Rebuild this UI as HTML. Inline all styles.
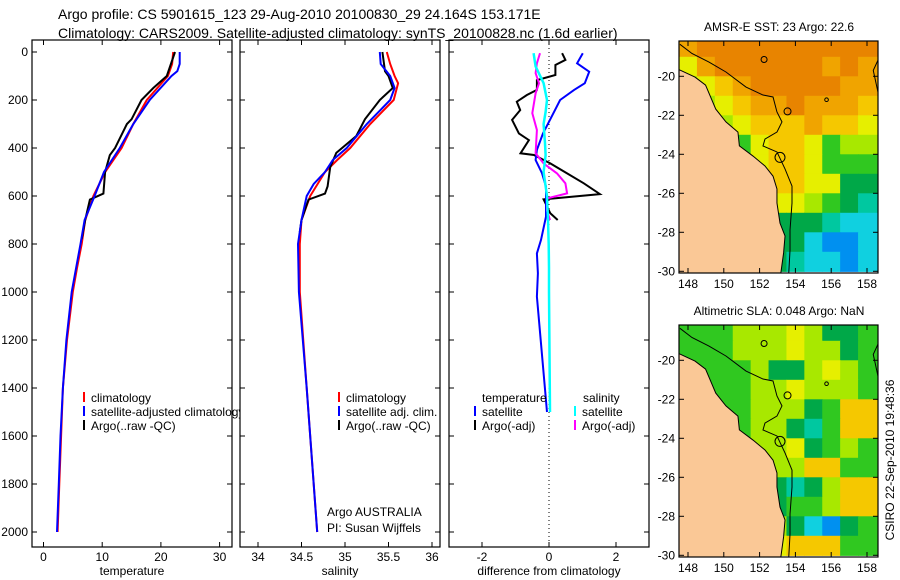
<!DOCTYPE html>
<html><head><meta charset="utf-8">
<style>
body{margin:0;background:#fff;}
svg{display:block;font-family:"Liberation Sans",sans-serif;}
</style></head>
<body>
<svg id="fig" width="900" height="580" viewBox="0 0 900 580">
<text x="58" y="19" font-size="14">Argo profile: CS 5901615_123 29-Aug-2010 20100830_29 24.164S 153.171E</text>
<text x="58" y="38" font-size="14">Climatology: CARS2009. Satellite-adjusted climatology: synTS_20100828.nc (1.6d earlier)</text>
<defs><clipPath id="p1clip"><rect x="32" y="40" width="208" height="507"/></clipPath></defs>
<g id="g"></g>
</svg>
<script>
// ---- depth profile data ----
const tDepthClim=[0,50,100,200,300,400,500,600,700,800,900,1000,1200,1400,1600,1800,2000];
const tempClim=[22.1,21.9,21.2,17.6,15.3,13.3,10.5,8.5,7.1,6.5,5.7,5.0,4.0,3.3,3.0,2.7,2.4];
const tDepthSat=[0,50,80,100,200,300,400,500,600,700,800,1000,1200,1400,1600,1800,2000];
const tempSat=[23.2,23.2,22.8,21.8,18.1,15.3,13.0,10.3,8.7,7.0,6.3,4.8,3.9,3.3,2.9,2.6,2.3];
const tDepthArgo=[0,100,150,200,280,300,400,430,500,590,615,700,780];
const tempArgo=[22.4,21.0,18.7,16.7,15.0,14.2,12.2,11.3,10.5,10.2,7.9,7.1,6.5];
const sDepthClim=[0,50,100,130,200,300,400,450,500,600,700,800,1000,1400,2000];
const salClim=[35.48,35.52,35.57,35.61,35.56,35.29,35.06,34.91,34.77,34.6,34.5,34.48,34.48,34.56,34.68];
const sDepthSat=[0,50,100,150,200,300,400,450,500,550,600,700,800,1000,1400,2000];
const salSat=[35.4,35.41,35.52,35.57,35.52,35.25,35.02,34.86,34.77,34.64,34.56,34.5,34.46,34.47,34.56,34.68];
const sDepthArgo=[0,80,100,150,200,280,350,420,480,560,590,615,700,750];
const salArgo=[35.43,35.46,35.5,35.55,35.4,35.23,35.13,34.9,34.83,34.8,34.77,34.58,34.5,34.48];
const dDepthTsat=[5,47,82,130,158,200,242,339,408,450,505,561,617,686,783,839,922,1019,1500];
const diffTsat=[1.01,0.84,1.2,1.07,0.75,0.33,0.18,-0.18,-0.36,-0.4,-0.21,-0.09,-0.09,-0.09,-0.24,-0.36,-0.33,-0.36,-0.06];
const dDepthTargo=[5,33,54,96,117,158,179,207,242,283,339,367,422,429,464,506,547,592,614,672,700];
const diffTargo=[0.39,0.49,0.19,0.19,-0.36,-0.36,-0.66,-0.96,-0.86,-1.1,-0.9,-0.6,-0.85,-0.45,0.04,0.54,1.04,1.52,-0.16,0.04,0.26];
const dDepthSsat=[5,60,130,200,250,300,380,430,500,600,700,800,900,1000,1500];
const diffSsat=[-0.46,-0.4,-0.16,-0.06,-0.1,-0.16,-0.12,-0.1,-0.16,-0.06,-0.03,-0.01,0.0,0.0,0.03];
const dDepthSargo=[5,47,88,130,172,255,325,422,464,506,547,589,610,661,700];
const diffSargo=[-0.27,-0.36,-0.4,-0.3,-0.4,-0.5,-0.36,-0.4,-0.16,0.24,0.49,0.54,-0.06,-0.06,0.03];
const depthTicks=[0,200,400,600,800,1000,1200,1400,1600,1800,2000];
const tempTicks=[0,10,20,30];
const salTicks=[34,34.5,35,35.5,36];
const diffTicks=[-2,0,2];
// ---- map data (1 deg cells, rows lat 18..30, cols lon 147.5..158.5) ----
const sstRows=["oOOOOOOOOOO","yoOOOOOOoOo","lyYoOOOOOoo","glyYooOoooY","gglyYYYoYYy","ggggyYYygll","tttcyYYyggg","tttbgYYyyGG","tttgGyylgGt","tttbgGGGtcc","tttcgGGcbbc","tttcgGtccbc"];
const slaRows=["ggglllylGGg","ggglllyllGg","gggglGGlylg","ggggllylllg","gggglllGgYY","ggggllGtgYY","ggggllyGglg","gggggllYYgg","ggggGGtGlYY","gggglGgglYY","ggggllGcbGg","gggglyYYYgg"];
const latTicks=[20,22,24,26,28,30];
const lonTicks=[148,150,152,154,156,158];
const coastLonLat=[[147.3,19.6],[147.55,19.68],[148.39,20.04],[148.98,20.45],[149.55,21.68],[150.12,22.34],[150.79,22.86],[150.87,23.57],[151.63,24.09],[152.3,24.6],[152.75,25.12],[152.97,25.78],[152.97,26.5],[153.14,27.53],[153.42,28.19],[153.34,29.06],[153.14,30.4],[147.3,30.4]];
const shelfLonLat=[[147.55,18.36],[148.22,18.83],[149.17,19.27],[150.12,19.78],[151.24,20.55],[152.19,20.96],[152.75,21.06],[152.97,21.83],[153.25,22.34],[152.97,22.86],[152.3,23.22],[152.19,23.57],[152.97,23.88],[153.42,24.75],[153.81,25.63],[153.81,26.5],[153.7,27.88],[153.7,28.91],[153.61,30.4]];

const NS="http://www.w3.org/2000/svg";
const G=document.getElementById('g');
function mk(tag,at,parent){const e=document.createElementNS(NS,tag);for(const k in at)e.setAttribute(k,at[k]);(parent||G).appendChild(e);return e;}
const Y0=52,PY=0.24;
const yD=d=>Y0+d*PY;
const xT=v=>43.5+v*5.87;
const xS=v=>258+(v-34)*87;
const xDf=v=>549+v*33.5;
const panels=[[32,'temperature-panel'],[240,'salinity-panel'],[449,'difference-panel']];
panels.forEach(([x0,nm],i)=>{
  const r=mk('rect',{x:x0,y:40,width:200,height:507,fill:'none',stroke:'#000','stroke-width':1.2});
  
  
  depthTicks.forEach(d=>{
    mk('line',{x1:x0,x2:x0+5,y1:yD(d),y2:yD(d),stroke:'#000'});
    mk('line',{x1:x0+195,x2:x0+200,y1:yD(d),y2:yD(d),stroke:'#000'});
    if(i===0){const t=mk('text',{x:x0-4,y:yD(d)+4,'font-size':12,'text-anchor':'end'});t.textContent=d;
      
      }
  });
});
function xticks(arr,fx){arr.forEach(v=>{const x=fx(v);
  mk('line',{x1:x,x2:x,y1:40,y2:45,stroke:'#000'});mk('line',{x1:x,x2:x,y1:542,y2:547,stroke:'#000'});
  const t=mk('text',{x:x,y:561,'font-size':12,'text-anchor':'middle'});t.textContent=v;
  
  });}
xticks(tempTicks,xT);xticks(salTicks,xS);xticks(diffTicks,xDf);
[['temperature',132,'x-axis-title-temperature'],['salinity',340,'x-axis-title-salinity'],['difference from climatology',549,'x-axis-title-difference']].forEach(([s,x,n])=>{
  const t=mk('text',{x:x,y:575,'font-size':12,'text-anchor':'middle'});t.textContent=s;
  
  });
const zl=mk('line',{x1:xDf(0),x2:xDf(0),y1:40,y2:547,stroke:'#000','stroke-dasharray':'1 3'});


function line(ds,vs,fx,col,name,w){
  const pts=ds.map((d,i)=>fx(vs[i]).toFixed(1)+','+yD(d).toFixed(1)).join(' ');
  const p=mk('polyline',{points:pts,fill:'none',stroke:col,'stroke-width':w||2});
  
  }
line(tDepthClim,tempClim,xT,'#f00','temp-climatology-line');
line(tDepthArgo,tempArgo,xT,'#000','temp-argo-line');
line(tDepthSat,tempSat,xT,'#00f','temp-satellite-line');
line(sDepthClim,salClim,xS,'#f00','sal-climatology-line');
line(sDepthArgo,salArgo,xS,'#000','sal-argo-line');
line(sDepthSat,salSat,xS,'#00f','sal-satellite-line');
line(dDepthTargo,diffTargo,xDf,'#000','diff-temp-argo-line');
line(dDepthTsat,diffTsat,xDf,'#00f','diff-temp-satellite-line');
line(dDepthSargo,diffSargo,xDf,'#f0f','diff-sal-argo-line');
line(dDepthSsat,diffSsat,xDf,'#0ff','diff-sal-satellite-line',2.5);
function leg(x,y,col,txt,name,clip){
  mk('line',{x1:x,x2:x,y1:y-10,y2:y,stroke:col,'stroke-width':2});
  const t=mk('text',{x:x+7,y:y,'font-size':12});t.textContent=txt;
  if(clip)t.setAttribute('clip-path','url(#p1clip)');
  
  }
leg(84,402,'#f00','climatology','legend-temp-climatology');
leg(84,416,'#00f','satellite-adjusted climatology','legend-temp-satellite',true);
leg(84,430,'#000','Argo(..raw -QC)','legend-temp-argo');
leg(339,402,'#f00','climatology','legend-sal-climatology');
leg(339,416,'#00f','satellite adj. clim.','legend-sal-satellite');
leg(339,430,'#000','Argo(..raw -QC)','legend-sal-argo');
[['temperature',482,402],['salinity',583,402]].forEach(([s,x,y])=>{const t=mk('text',{x:x,y:y,'font-size':12});t.textContent=s;
  
  });
leg(475,416,'#00f','satellite','legend-diff-temp-satellite');
leg(475,430,'#000','Argo(-adj)','legend-diff-temp-argo');
leg(575,416,'#0ff','satellite','legend-diff-sal-satellite');
leg(575,430,'#f0f','Argo(-adj)','legend-diff-sal-argo');
[['Argo AUSTRALIA',516],['PI: Susan Wijffels',532]].forEach(([s,y])=>{const t=mk('text',{x:327,y:y,'font-size':12});t.textContent=s;
  
  });
// ---- maps ----
const COL={O:'#e88400',o:'#f0a400',Y:'#f5c800',y:'#e6ef00',l:'#a8e800',g:'#30c820',G:'#00a848',t:'#00c8a0',c:'#10d0e0',b:'#0090f0'};
const LX=17.9, LY=19.5;
const lx=l=>688+(l-148)*LX;
function drawMap(top,rows,title,name){
  const ly=l=>top+(l-18.19)*LY;
  const grp=mk('g',{});
  
  
  const clipId='clip'+top;
  const cp=mk('clipPath',{id:clipId},grp);mk('rect',{x:679,y:top,width:199,height:232},cp);
  const inner=mk('g',{'clip-path':'url(#'+clipId+')'},grp);
  rows.forEach((row,r)=>{[...row].forEach((ch,c)=>{
    const w=(c===row.length-1)?LX*2:LX+0.6;
    mk('rect',{x:lx(147.5+c),y:ly(18+r),width:w,height:LY+0.6,fill:COL[ch]},inner);});});
  mk('polygon',{points:coastLonLat.map(p=>lx(p[0])+','+ly(p[1])).join(' '),fill:'#fac896',stroke:'#000','stroke-width':1},inner);
  mk('polyline',{points:shelfLonLat.map(p=>lx(p[0])+','+ly(p[1])).join(' '),fill:'none',stroke:'#000','stroke-width':1},inner);
  mk('circle',{cx:lx(153.14),cy:ly(24.16),r:5,fill:'none',stroke:'#000'},inner);
  mk('circle',{cx:lx(152.25),cy:ly(19.14),r:3,fill:'none',stroke:'#000'},inner);
  mk('circle',{cx:lx(153.56),cy:ly(21.8),r:3.5,fill:'none',stroke:'#000'},inner);
  mk('circle',{cx:lx(155.74),cy:ly(21.2),r:1.8,fill:'none',stroke:'#000'},inner);
  mk('path',{d:`M${lx(158.8)} ${ly(21.6)} L${lx(158.35)} ${ly(19.7)} L${lx(158.8)} ${ly(18.8)}`,fill:'none',stroke:'#000'},inner);
  mk('rect',{x:679,y:top,width:199,height:232,fill:'none',stroke:'#000','stroke-width':1.2},grp);
  latTicks.forEach(l=>{const y=ly(l);mk('line',{x1:679,x2:684,y1:y,y2:y,stroke:'#000'},grp);mk('line',{x1:873,x2:878,y1:y,y2:y,stroke:'#000'},grp);
    const t=mk('text',{x:675,y:y+4,'font-size':12,'text-anchor':'end'},grp);t.textContent='-'+l;
    
    });
  lonTicks.forEach(l=>{const x=lx(l);mk('line',{x1:x,x2:x,y1:top,y2:top+5,stroke:'#000'},grp);mk('line',{x1:x,x2:x,y1:top+227,y2:top+232,stroke:'#000'},grp);
    const t=mk('text',{x:x,y:top+247,'font-size':12,'text-anchor':'middle'},grp);t.textContent=l;
    
    });
  const t=mk('text',{x:779,y:top-10,'font-size':12,'text-anchor':'middle'},grp);t.textContent=title;
  
  
}
drawMap(41,sstRows,'AMSR-E SST: 23 Argo: 22.6','sst-map');
drawMap(325,slaRows,'Altimetric SLA: 0.048 Argo: NaN','sla-map');
const ts=mk('text',{x:0,y:0,'font-size':12,'text-anchor':'middle',transform:'translate(894,460) rotate(-90)'});
ts.textContent='CSIRO 22-Sep-2010 19:48:36';


</script>
</body></html>
